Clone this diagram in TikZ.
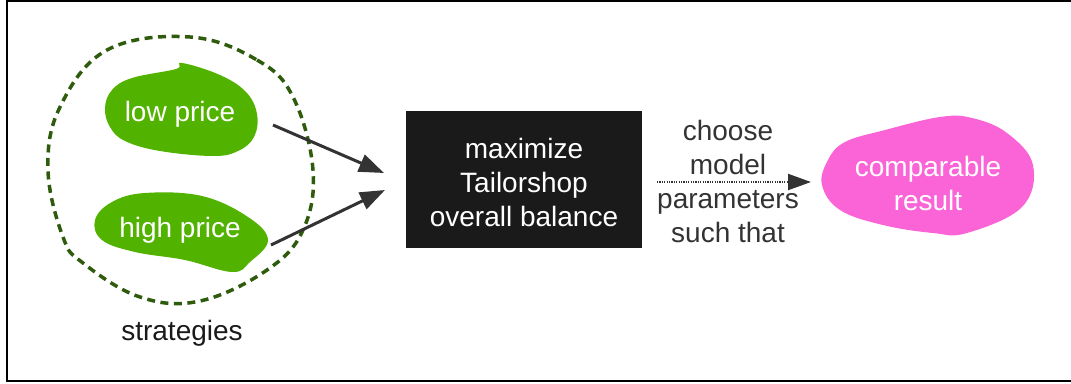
\documentclass[tikz,border=0pt]{standalone}
\usepackage{fontspec}
\setmainfont{Liberation Sans}
\usetikzlibrary{arrows.meta}
\definecolor{leaf}{HTML}{52B200}
\definecolor{rosy}{HTML}{FA64D7}
\definecolor{moss}{HTML}{2F5C0C}
\definecolor{ink}{HTML}{333333}
\definecolor{boxfill}{HTML}{1A1A1A}
\begin{document}
\begin{tikzpicture}[x=1pt,y=-1pt,
  lbl/.style={font=\fontsize{28}{34}\selectfont, align=center, inner sep=0pt},
  blobtxt/.style={lbl, text=white},
  flow/.style={draw=ink, line width=3pt, -{Triangle[length=25pt,width=18pt]}},
  blob/.style={smooth cycle, tension=0.65}]
\useasboundingbox (0,0) rectangle (1071,383);
\begin{scope}
  \clip (0,0) rectangle (1071,383);
  \draw[line width=1.6pt] (7,1) rectangle (1090,381);
\end{scope}

% strategy group outline
\draw[moss, line width=3.5pt, dash pattern=on 8pt off 5.5pt]
  plot[blob] coordinates {(190,37) (257,60) (293,97) (313,170) (303,230)
    (267,270) (200,301) (140,297) (83,263) (63,237) (48,170) (60,107) (107,50)};

% green strategy blobs
\fill[leaf] plot[blob] coordinates {(182,63) (220,75) (246,92) (257,114)
  (254,137) (238,151) (213,156) (160,151) (125,141) (110,127) (105,108)
  (112,90) (132,78) (176,69)};
\fill[leaf] plot[blob] coordinates {(145,193) (202,196) (248,217) (268,240)
  (250,262) (232,272) (185,260) (135,252) (102,240) (95,220) (112,202)};

% pink result blob
\fill[rosy] plot[blob] coordinates {(940,117) (972,118) (1007,133) (1033,165)
  (1022,207) (967,233) (933,233) (883,225) (840,210) (822,185) (828,160)
  (845,142) (885,130)};

\node[blobtxt] (low) at (180,114) {low price};
\node[blobtxt] (high) at (180,230) {high price};
\node[lbl, text=boxfill] (strat) at (182,333) {strategies};

\node[fill=boxfill, text=white, lbl, minimum width=236pt, minimum height=137pt]
  (box) at (524,179.5) {};
\node[lbl, text=white] (boxtxt) at (524,182) {maximize\\Tailorshop\\overall balance};

\node[blobtxt] (result) at (928,183) {comparable\\result};

\node[lbl, text=ink] (cond) at (728,181) {choose\\model\\parameters\\such that};

% connectors
\coordinate (s1) at (273,125);
\coordinate (e1) at (384,173);
\coordinate (s2) at (271,245);
\coordinate (e2) at (385,190);
\coordinate (s3) at (657,182);
\coordinate (e3) at (811,182);
\draw[flow] (s1) -- (e1);
\draw[flow] (s2) -- (e2);
\draw[draw=ink, line width=2.2pt, dash pattern=on 1.2pt off 1.2pt,
  -{Triangle[length=23pt,width=16pt]}] (s3) -- (e3);
\end{tikzpicture}
\end{document}
